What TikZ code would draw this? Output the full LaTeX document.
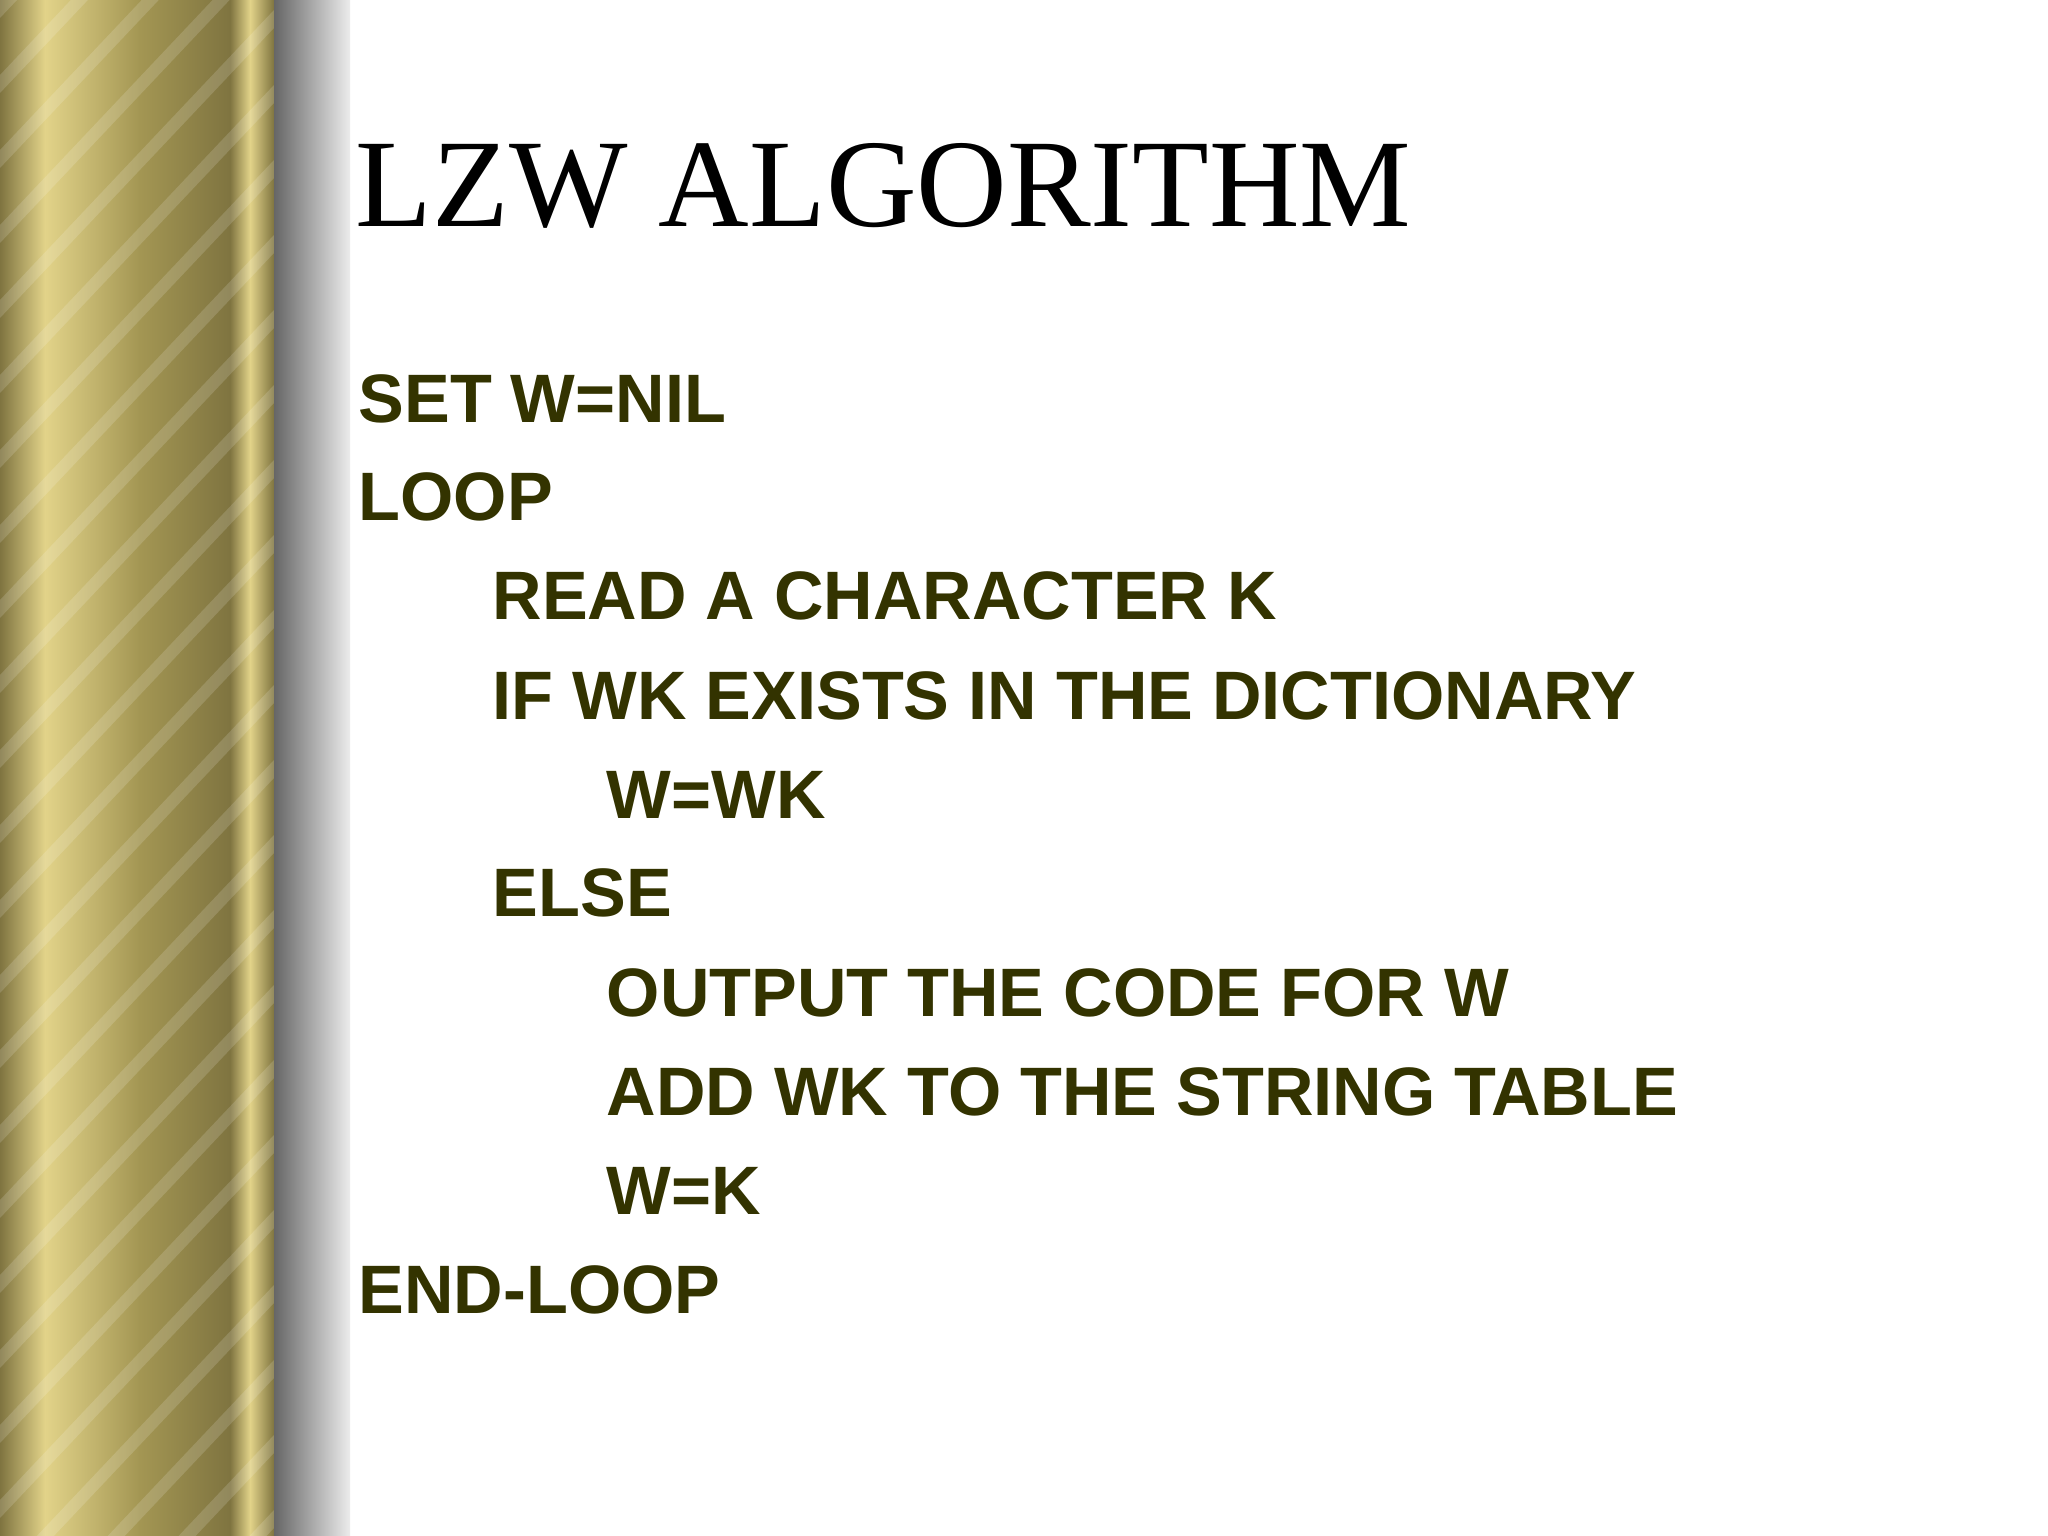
\documentclass[tikz,border=0pt]{standalone}
\usepackage{fontspec}
\setmainfont{Liberation Serif}
\newfontfamily\bodyfont{Liberation Sans}
\definecolor{olivetxt}{HTML}{333300}
\definecolor{goldA}{HTML}{7F7440}
\definecolor{goldB}{HTML}{E2D389}
\definecolor{goldC}{HTML}{A39653}
\begin{document}
\begin{tikzpicture}[x=1cm,y=-1cm,
  line/.style={anchor=base west,font=\bodyfont\bfseries\fontsize{19.5}{24}\selectfont,text=olivetxt,inner sep=0pt}]
\useasboundingbox (0,0) rectangle (20.48,15.36);
\fill[white] (0,0) rectangle (20.48,15.36);
% gold pillar
\shade[left color=goldA,right color=goldB] (0,0) rectangle (0.45,15.36);
\shade[left color=goldB,right color=goldC] (0.45,0) rectangle (1.4,15.36);
\shade[left color=goldC,right color=goldA] (1.4,0) rectangle (2.3,15.36);
\shade[left color=goldA,right color=goldB] (2.3,0) rectangle (2.5,15.36);
\shade[left color=goldB,right color=goldA] (2.5,0) rectangle (2.74,15.36);
\begin{scope}
\clip (0,0) rectangle (2.74,15.36);
\foreach \i in {-4,...,24}{
  \fill[white,opacity=0.15] (0,\i*0.75) -- (2.74,\i*0.75-2.9) -- (2.74,\i*0.75-2.72) -- (0,\i*0.75+0.18) -- cycle;
}
\end{scope}
% gray band
\shade[left color=gray!80!black,right color=gray!15] (2.74,0) rectangle (3.5,15.36);
% title
\node[anchor=base west,inner sep=0pt,font=\fontsize{35.7}{42}\selectfont] (title) at (3.55,2.27) {LZW ALGORITHM};
% body
\node[line] (l1) at (3.58,4.22) {SET W=NIL};
\node[line] (l2) at (3.58,5.21) {LOOP};
\node[line] (l3) at (4.92,6.20) {READ A CHARACTER K};
\node[line] (l4) at (4.92,7.19) {IF WK EXISTS IN THE DICTIONARY};
\node[line] (l5) at (6.06,8.18) {W=WK};
\node[line] (l6) at (4.92,9.17) {ELSE};
\node[line] (l7) at (6.06,10.16) {OUTPUT THE CODE FOR W};
\node[line] (l8) at (6.06,11.15) {ADD WK TO THE STRING TABLE};
\node[line] (l9) at (6.06,12.14) {W=K};
\node[line] (l10) at (3.58,13.13) {END-LOOP};
\end{tikzpicture}
\end{document}
